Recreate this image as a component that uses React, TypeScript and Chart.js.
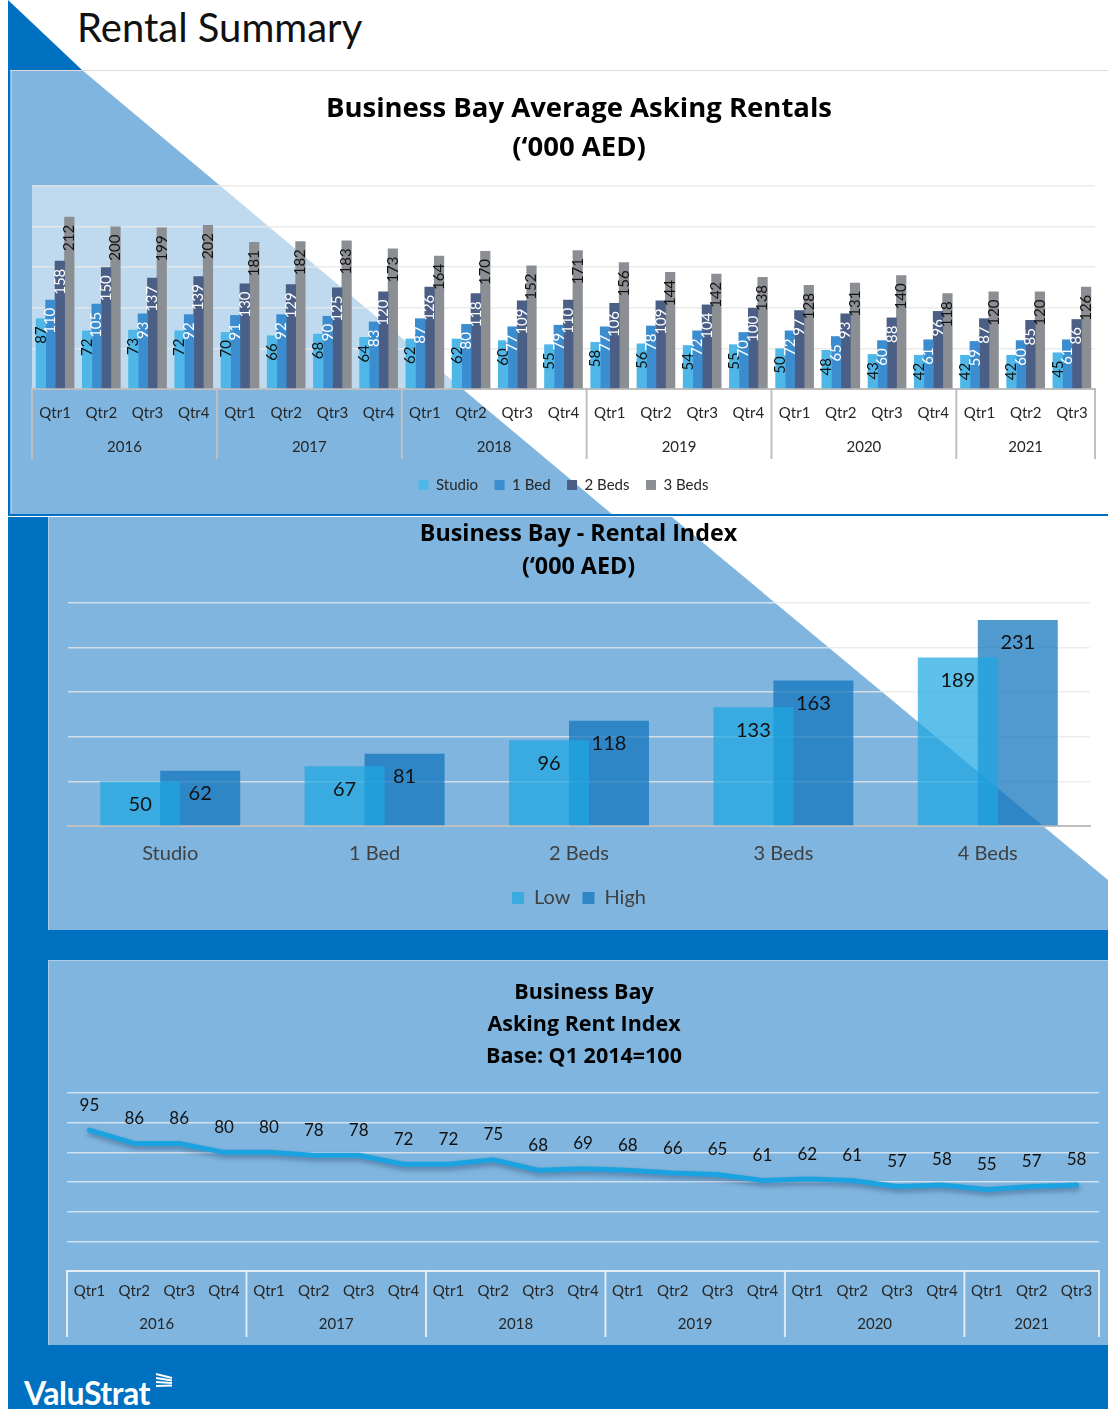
import React, { useEffect, useRef } from 'react';
import { Chart, registerables } from 'chart.js';

Chart.register(...registerables);

const FONT = 'Lato, "Open Sans", "DejaVu Sans", sans-serif';
const TITLE_FONT = '"Open Sans", Lato, "DejaVu Sans", sans-serif';

// ---------- Top chart: Business Bay Average Asking Rentals ('000 AED) ----------
const quarterLabels = [
  'Qtr1', 'Qtr2', 'Qtr3', 'Qtr4',
  'Qtr1', 'Qtr2', 'Qtr3', 'Qtr4',
  'Qtr1', 'Qtr2', 'Qtr3', 'Qtr4',
  'Qtr1', 'Qtr2', 'Qtr3', 'Qtr4',
  'Qtr1', 'Qtr2', 'Qtr3', 'Qtr4',
  'Qtr1', 'Qtr2', 'Qtr3',
];
const yearLabels = ['2016', '2017', '2018', '2019', '2020', '2021'];
const quartersPerYear = [4, 4, 4, 4, 4, 3];

const studioRents = [87, 72, 73, 72, 70, 66, 68, 64, 62, 62, 60, 55, 58, 56, 54, 55, 50, 48, 43, 42, 42, 42, 45];
const oneBedRents = [110, 105, 93, 92, 91, 92, 90, 83, 87, 80, 77, 79, 77, 78, 72, 70, 72, 65, 60, 61, 59, 60, 61];
const twoBedRents = [158, 150, 137, 139, 130, 129, 125, 120, 126, 118, 109, 110, 106, 109, 104, 100, 97, 93, 88, 96, 87, 85, 86];
const threeBedRents = [212, 200, 199, 202, 181, 182, 183, 173, 164, 170, 152, 171, 156, 144, 142, 138, 128, 131, 140, 118, 120, 120, 126];

// ---------- Middle chart: Business Bay - Rental Index ('000 AED) ----------
const unitTypes = ['Studio', '1 Bed', '2 Beds', '3 Beds', '4 Beds'];
const lowRents = [50, 67, 96, 133, 189];
const highRents = [62, 81, 118, 163, 231];

// ---------- Bottom chart: Asking Rent Index, Base Q1 2014 = 100 ----------
const askingRentIndex = [95, 86, 86, 80, 80, 78, 78, 72, 72, 75, 68, 69, 68, 66, 65, 61, 62, 61, 57, 58, 55, 57, 58];

// ---------- plugins ----------
const plotBgPlugin = {
  id: 'plotBg',
  beforeDraw(chart: any, _a: any, opts: any) {
    if (!opts || !opts.color) return;
    const { ctx, chartArea: a } = chart;
    ctx.save();
    ctx.fillStyle = opts.color;
    ctx.fillRect(a.left, a.top, a.right - a.left, a.bottom - a.top);
    ctx.restore();
  },
};

const valueLabelPlugin = {
  id: 'valueLabels',
  afterDatasetsDraw(chart: any, _a: any, opts: any) {
    const ctx = chart.ctx;
    ctx.save();
    ctx.font = `${opts.fontSize}px ${FONT}`;
    chart.data.datasets.forEach((ds: any, di: number) => {
      const meta = chart.getDatasetMeta(di);
      meta.data.forEach((el: any, i: number) => {
        const v = ds.data[i];
        ctx.fillStyle = opts.colors[di];
        if (opts.rotate) {
          ctx.save();
          ctx.translate(el.x, el.y + opts.offset);
          ctx.rotate(-Math.PI / 2);
          ctx.textAlign = 'right';
          ctx.textBaseline = 'middle';
          ctx.fillText(String(v), 0, 0);
          ctx.restore();
        } else {
          ctx.textAlign = 'center';
          ctx.textBaseline = 'middle';
          ctx.fillText(String(v), el.x, el.y + opts.offset);
        }
      });
    });
    ctx.restore();
  },
};

const groupAxisPlugin = {
  id: 'groupAxis',
  afterDraw(chart: any, _a: any, opts: any) {
    const { ctx, chartArea } = chart;
    const xs = chart.scales.x;
    const half = (xs.getPixelForValue(1) - xs.getPixelForValue(0)) / 2;
    const top = chartArea.bottom;
    ctx.save();
    ctx.strokeStyle = opts.lineColor;
    ctx.lineWidth = opts.lineWidth;
    ctx.font = `${opts.fontSize}px ${FONT}`;
    ctx.fillStyle = opts.color;
    ctx.textAlign = 'center';
    ctx.textBaseline = 'middle';
    let start = 0;
    const edges: number[] = [xs.getPixelForValue(0) - half];
    opts.counts.forEach((c: number, g: number) => {
      const left = xs.getPixelForValue(start) - half;
      const right = xs.getPixelForValue(start + c - 1) + half;
      ctx.fillText(opts.labels[g], (left + right) / 2, top + opts.labelOffset);
      edges.push(right);
      start += c;
    });
    edges.forEach((x) => {
      ctx.beginPath();
      ctx.moveTo(x, top);
      ctx.lineTo(x, top + opts.height);
      ctx.stroke();
    });
    ctx.restore();
  },
};

const lineShadowPlugin = {
  id: 'lineShadow',
  beforeDatasetsDraw(chart: any) {
    const c = chart.ctx;
    c.save();
    c.shadowColor = 'rgba(0,20,60,0.35)';
    c.shadowBlur = 5;
    c.shadowOffsetX = 1;
    c.shadowOffsetY = 3;
  },
  afterDatasetsDraw(chart: any) {
    chart.ctx.restore();
  },
};

const abs = (s: any) => ({ position: 'absolute' as const, ...s });

export default function App() {
  const topRef = useRef<HTMLCanvasElement>(null);
  const midRef = useRef<HTMLCanvasElement>(null);
  const botRef = useRef<HTMLCanvasElement>(null);

  useEffect(() => {
    document.body.style.margin = '0';
    document.documentElement.style.overflow = 'hidden';

    const topChart = new Chart(topRef.current as HTMLCanvasElement, {
      type: 'bar',
      data: {
        labels: quarterLabels,
        datasets: [
          { label: 'Studio', data: studioRents, backgroundColor: '#4FB7E7' },
          { label: '1 Bed', data: oneBedRents, backgroundColor: '#3C8DCF' },
          { label: '2 Beds', data: twoBedRents, backgroundColor: '#4A5E86' },
          { label: '3 Beds', data: threeBedRents, backgroundColor: '#8B8F94' },
        ],
      },
      options: {
        responsive: false,
        animation: false,
        devicePixelRatio: 1,
        layout: { padding: { left: 22, right: 13, top: 116, bottom: 12.5 } },
        datasets: { bar: { categoryPercentage: 0.82, barPercentage: 1.08 } },
        scales: {
          x: {
            grid: { display: false, drawTicks: false },
            border: { color: '#BFBFBF', width: 2 },
            ticks: { font: { family: FONT, size: 15 }, color: '#262626', padding: 15, autoSkip: false, maxRotation: 0 },
            afterFit: (s: any) => { s.height = 72; },
          },
          y: {
            min: 0,
            max: 250,
            ticks: { display: false, stepSize: 50 },
            grid: { color: 'rgba(232,232,232,0.85)', drawTicks: false, lineWidth: 1.5 },
            border: { display: false },
          },
        },
        plugins: {
          title: { display: false },
          tooltip: { enabled: false },
          legend: {
            position: 'bottom',
            labels: { font: { family: FONT, size: 15 }, color: '#262626', boxWidth: 10, boxHeight: 10, padding: 16.5 },
          },
          plotBg: { color: 'rgba(255,255,255,0.5)' },
          valueLabels: { fontSize: 15, offset: 8, rotate: true, colors: ['#111', '#fff', '#fff', '#111'] },
          groupAxis: {
            labels: yearLabels, counts: quartersPerYear, lineColor: '#BFBFBF', lineWidth: 2,
            height: 70, labelOffset: 58, fontSize: 15, color: '#262626',
          },
        } as any,
      },
      plugins: [plotBgPlugin, valueLabelPlugin, groupAxisPlugin],
    } as any);

    const midChart = new Chart(midRef.current as HTMLCanvasElement, {
      type: 'bar',
      data: {
        labels: unitTypes,
        datasets: [
          { label: 'Low', data: lowRents, backgroundColor: 'rgba(31,167,226,0.72)' },
          { label: 'High', data: highRents, backgroundColor: 'rgba(16,117,191,0.73)' },
        ],
      },
      options: {
        responsive: false,
        animation: false,
        devicePixelRatio: 1,
        layout: { padding: { left: 20, right: 18, top: 86, bottom: 12 } },
        datasets: { bar: { categoryPercentage: 0.587, barPercentage: 1.333 } },
        scales: {
          x: {
            grid: { display: false, drawTicks: false },
            border: { color: '#BFBFBF', width: 2 },
            ticks: { font: { family: FONT, size: 20 }, color: '#404040', padding: 16 },
            afterFit: (s: any) => { s.height = 50; },
          },
          y: {
            min: 0,
            max: 250,
            ticks: { display: false, stepSize: 50 },
            grid: { color: 'rgba(232,232,232,0.8)', drawTicks: false, lineWidth: 1.5 },
            border: { display: false },
          },
        },
        plugins: {
          title: { display: false },
          tooltip: { enabled: false },
          legend: {
            position: 'bottom',
            labels: { font: { family: FONT, size: 20 }, color: '#404040', boxWidth: 12, boxHeight: 12, padding: 12 },
          },
          valueLabels: { fontSize: 20, offset: 23, rotate: false, colors: ['#111', '#111'] },
        } as any,
      },
      plugins: [valueLabelPlugin],
    } as any);

    const botChart = new Chart(botRef.current as HTMLCanvasElement, {
      type: 'line',
      data: {
        labels: quarterLabels,
        datasets: [
          {
            label: 'Asking Rent Index',
            data: askingRentIndex,
            borderColor: '#1BA3E1',
            borderWidth: 5,
            pointRadius: 0,
            tension: 0,
            fill: false,
            borderCapStyle: 'round',
            borderJoinStyle: 'round',
          },
        ],
      },
      options: {
        responsive: false,
        animation: false,
        devicePixelRatio: 1,
        layout: { padding: { left: 19, right: 9, top: 133, bottom: 0 } },
        scales: {
          x: {
            offset: true,
            grid: { display: false, drawTicks: false },
            border: { color: 'rgba(235,240,245,0.9)', width: 2 },
            ticks: { font: { family: FONT, size: 15 }, color: '#262626', padding: 11, autoSkip: false, maxRotation: 0 },
            afterFit: (s: any) => { s.height = 74; },
          },
          y: {
            min: 0,
            max: 120,
            ticks: { display: false, stepSize: 20 },
            grid: { color: 'rgba(235,240,245,0.75)', drawTicks: false, lineWidth: 1.5 },
            border: { display: false },
          },
        },
        plugins: {
          title: { display: false },
          tooltip: { enabled: false },
          legend: { display: false },
          valueLabels: { fontSize: 17, offset: -25, rotate: false, colors: ['#111'] },
          groupAxis: {
            labels: yearLabels, counts: quartersPerYear, lineColor: 'rgba(235,240,245,0.9)', lineWidth: 2,
            height: 66, labelOffset: 53, fontSize: 15, color: '#262626',
          },
        } as any,
      },
      plugins: [lineShadowPlugin, valueLabelPlugin, groupAxisPlugin],
    } as any);

    return () => {
      topChart.destroy();
      midChart.destroy();
      botChart.destroy();
    };
  }, []);

  const LIGHT = '#7FB5DE';
  const DARK = '#0070C0';
  const titleStyle = (cx: number, top: number, size: number, lh: number) =>
    abs({ left: cx - 350, top, width: 700, textAlign: 'center', fontFamily: TITLE_FONT, fontWeight: 700, fontSize: size, lineHeight: `${lh}px`, color: '#000', whiteSpace: 'nowrap' });

  return (
    <div style={abs({ left: 0, top: 0, width: 1108, height: 1409, background: '#fff', overflow: 'hidden', fontFamily: FONT })}>
      {/* top-left dark triangle */}
      <div style={abs({ left: 8, top: 0, width: 74, height: 70, background: DARK, clipPath: 'polygon(0 0, 100% 100%, 0 100%)' })} />
      <div style={abs({ left: 77, top: 6.5, fontSize: 40, lineHeight: '40px', color: '#111', fontFamily: FONT, whiteSpace: 'nowrap' })}>Rental Summary</div>

      {/* top panel */}
      <div style={abs({ left: 10, top: 70, width: 1098, height: 445, background: '#fff' })} />
      <div style={abs({ left: 10, top: 70, width: 1098, height: 445, background: LIGHT, clipPath: 'polygon(0 0, 72px 0, 603px 445px, 0 445px)' })} />
      <div style={abs({ left: 10, top: 70, width: 1098, height: 1, background: '#DADADA' })} />
      <div style={abs({ left: 8, top: 70, width: 2, height: 445, background: DARK })} />
      <div style={abs({ left: 11, top: 71, width: 1, height: 442, background: '#A9CDEA' })} />

      {/* dark lower area */}
      <div style={abs({ left: 8, top: 514, width: 1100, height: 895, background: DARK })} />
      <div style={abs({ left: 8, top: 516, width: 1100, height: 1, background: '#fff' })} />

      {/* middle panel */}
      <div style={abs({ left: 48, top: 517, width: 1060, height: 413, background: LIGHT })} />
      <div style={abs({ left: 48, top: 517, width: 1060, height: 413, background: '#fff', clipPath: 'polygon(624px 0, 100% 0, 100% 363px)' })} />
      <div style={abs({ left: 48, top: 517, width: 1, height: 413, background: '#A9CDEA' })} />

      {/* bottom panel */}
      <div style={abs({ left: 48, top: 960, width: 1060, height: 385, background: LIGHT })} />
      <div style={abs({ left: 48, top: 960, width: 1060, height: 1, background: '#A9CDEA' })} />
      <div style={abs({ left: 48, top: 960, width: 1, height: 385, background: '#A9CDEA' })} />

      {/* canvases */}
      <canvas ref={topRef} width={1098} height={445} style={abs({ left: 10, top: 70 })} />
      <canvas ref={midRef} width={1060} height={413} style={abs({ left: 48, top: 517 })} />
      <canvas ref={botRef} width={1060} height={385} style={abs({ left: 48, top: 960 })} />

      {/* chart titles */}
      <div style={titleStyle(579, 87, 27.5, 39)}>
        Business Bay Average Asking Rentals
        <br />
        (‘000 AED)
      </div>
      <div style={titleStyle(578.5, 516, 23.3, 33)}>
        Business Bay - Rental Index
        <br />
        (‘000 AED)
      </div>
      <div style={titleStyle(584, 975, 21.5, 32)}>
        Business Bay
        <br />
        Asking Rent Index
        <br />
        Base: Q1 2014=100
      </div>

      {/* logo */}
      <div style={abs({ left: 24, top: 1377, fontSize: 32, lineHeight: '32px', fontWeight: 700, color: '#fff', fontFamily: FONT, letterSpacing: -0.5, whiteSpace: 'nowrap' })}>ValuStrat</div>
      <svg style={abs({ left: 155, top: 1373 })} width={20} height={22} viewBox="0 0 20 22">
        {[0, 1, 2, 3].map((i) => (
          <line key={i} x1={1} y1={1 + i * 4} x2={17} y2={5 + i * 2.5} stroke="#fff" strokeWidth={2} />
        ))}
      </svg>
    </div>
  );
}
